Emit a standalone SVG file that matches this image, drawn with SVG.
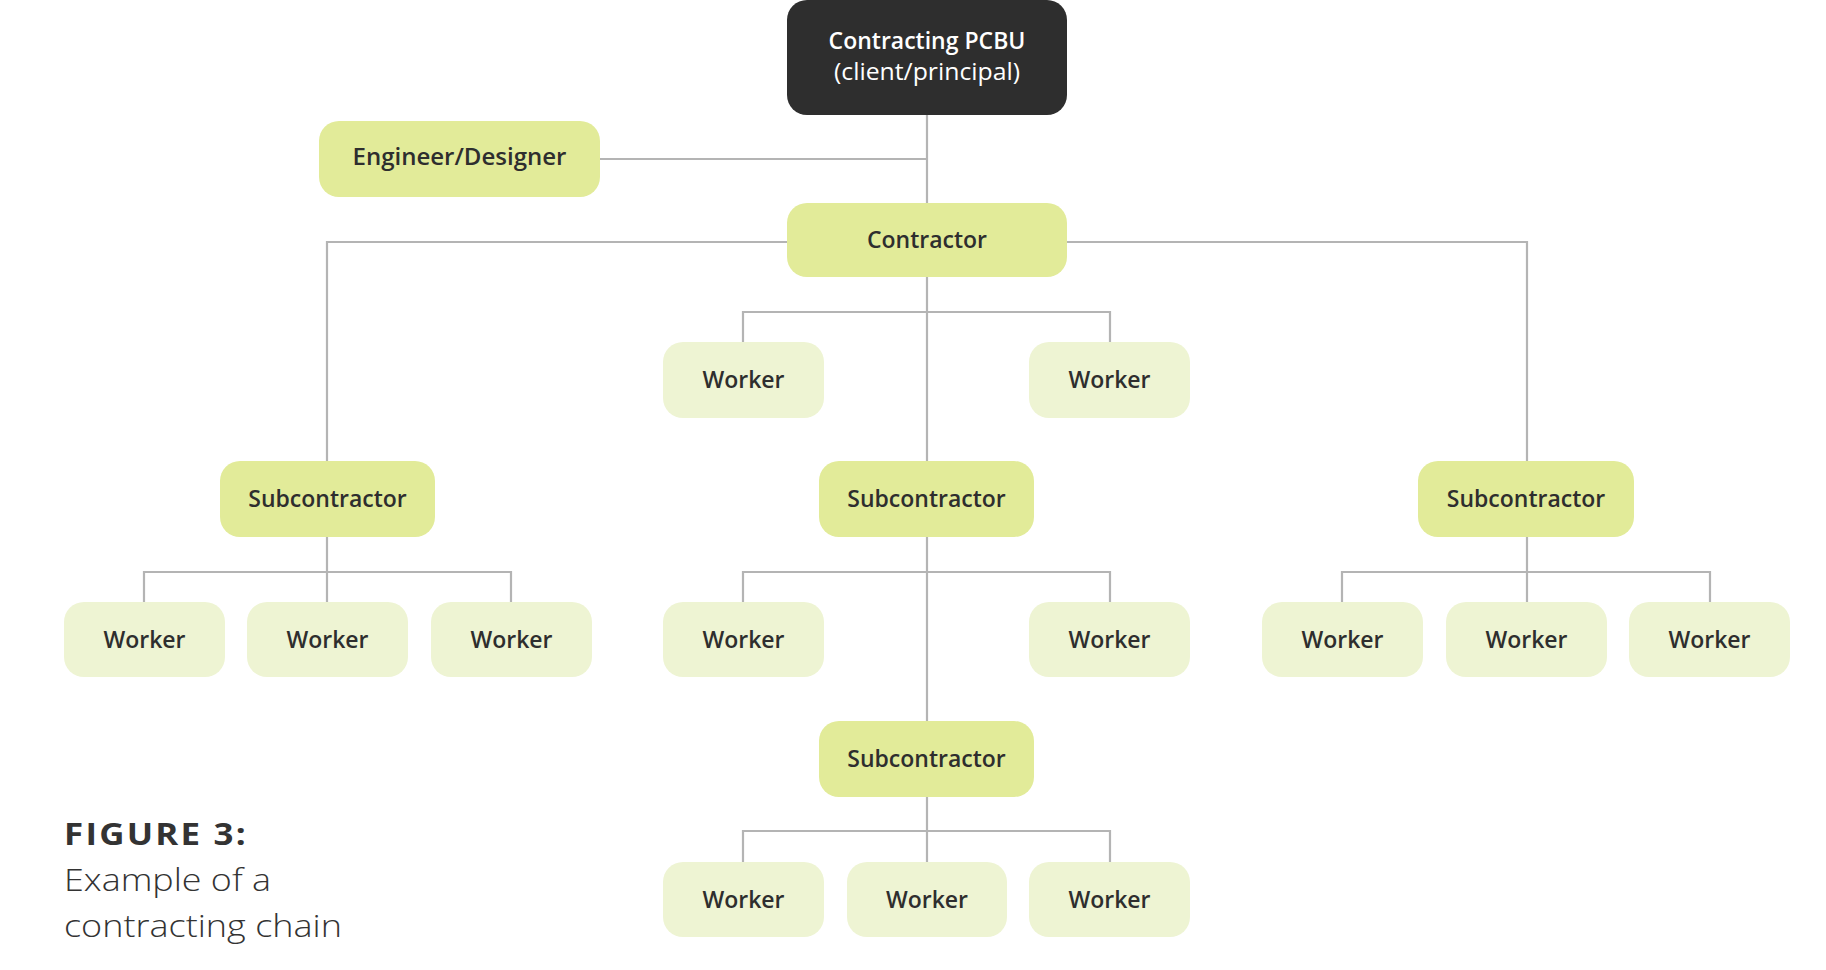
<svg xmlns="http://www.w3.org/2000/svg" width="1826" height="970" viewBox="0 0 1826 970">
<style>
.ln{fill:none;stroke:#b4b4b4;stroke-width:2.2}
.sub{fill:#e2eb99}
.wk{fill:#eef4d3}
.dk{fill:#2e2e2e}
.t{font-family:"Open Sans","Liberation Sans",sans-serif;font-weight:600;font-size:23px;fill:#2e2e2e;text-anchor:middle}
.tw{font-family:"Open Sans","Liberation Sans",sans-serif;font-size:23px;fill:#ffffff;text-anchor:middle}
.cap{font-family:"Open Sans","Liberation Sans",sans-serif;fill:#333333}
</style>
<rect width="1826" height="970" fill="#ffffff"/>
<g id="connectors">
<path class="ln" d="M927 115 V203 M600 159 H927"/>
<path class="ln" d="M787 242 H327 V461 M1067 242 H1527 V461"/>
<path class="ln" d="M927 277 V461 M743 342 V312 H1110 V342"/>
<path class="ln" d="M327 537 V602 M144 602 V572 H511 V602"/>
<path class="ln" d="M927 537 V721 M743 602 V572 H1110 V602"/>
<path class="ln" d="M1527 537 V602 M1342 602 V572 H1710 V602"/>
<path class="ln" d="M927 797 V862 M743 862 V831 H1110 V862"/>
</g>
<g id="pcbu"><rect class="dk" x="787" y="0" width="280" height="115" rx="20"/><text class="tw" x="927" y="49" font-weight="600">Contracting PCBU</text><text class="tw" x="927" y="80" font-weight="400" textLength="186" lengthAdjust="spacingAndGlyphs">(client/principal)</text></g>
<g id="engineer"><rect class="sub" x="319" y="121" width="281" height="76" rx="20"/><text class="t" x="459.5" y="165" textLength="214" lengthAdjust="spacingAndGlyphs">Engineer/Designer</text></g>
<g id="contractor"><rect class="sub" x="787" y="203" width="280" height="74" rx="20"/><text class="t" x="927" y="248">Contractor</text></g>
<g id="worker-c1"><rect class="wk" x="663" y="342" width="161" height="76" rx="20"/><text class="t" x="743.5" y="388">Worker</text></g>
<g id="worker-c2"><rect class="wk" x="1029" y="342" width="161" height="76" rx="20"/><text class="t" x="1109.5" y="388">Worker</text></g>
<g id="sub-left"><rect class="sub" x="220" y="461" width="215" height="76" rx="20"/><text class="t" x="327.5" y="507">Subcontractor</text></g>
<g id="sub-mid"><rect class="sub" x="819" y="461" width="215" height="76" rx="20"/><text class="t" x="926.5" y="507">Subcontractor</text></g>
<g id="sub-right"><rect class="sub" x="1418" y="461" width="216" height="76" rx="20"/><text class="t" x="1526" y="507">Subcontractor</text></g>
<g id="worker-l1"><rect class="wk" x="64" y="602" width="161" height="75" rx="20"/><text class="t" x="144.5" y="648">Worker</text></g>
<g id="worker-l2"><rect class="wk" x="247" y="602" width="161" height="75" rx="20"/><text class="t" x="327.5" y="648">Worker</text></g>
<g id="worker-l3"><rect class="wk" x="431" y="602" width="161" height="75" rx="20"/><text class="t" x="511.5" y="648">Worker</text></g>
<g id="worker-m1"><rect class="wk" x="663" y="602" width="161" height="75" rx="20"/><text class="t" x="743.5" y="648">Worker</text></g>
<g id="worker-m2"><rect class="wk" x="1029" y="602" width="161" height="75" rx="20"/><text class="t" x="1109.5" y="648">Worker</text></g>
<g id="worker-r1"><rect class="wk" x="1262" y="602" width="161" height="75" rx="20"/><text class="t" x="1342.5" y="648">Worker</text></g>
<g id="worker-r2"><rect class="wk" x="1446" y="602" width="161" height="75" rx="20"/><text class="t" x="1526.5" y="648">Worker</text></g>
<g id="worker-r3"><rect class="wk" x="1629" y="602" width="161" height="75" rx="20"/><text class="t" x="1709.5" y="648">Worker</text></g>
<g id="sub-bottom"><rect class="sub" x="819" y="721" width="215" height="76" rx="20"/><text class="t" x="926.5" y="767">Subcontractor</text></g>
<g id="worker-b1"><rect class="wk" x="663" y="862" width="161" height="75" rx="20"/><text class="t" x="743.5" y="908">Worker</text></g>
<g id="worker-b2"><rect class="wk" x="847" y="862" width="160" height="75" rx="20"/><text class="t" x="927" y="908">Worker</text></g>
<g id="worker-b3"><rect class="wk" x="1029" y="862" width="161" height="75" rx="20"/><text class="t" x="1109.5" y="908">Worker</text></g>
<g id="caption">
<text class="cap" x="64" y="845" font-size="31" font-weight="700" letter-spacing="2" textLength="184" lengthAdjust="spacingAndGlyphs">FIGURE 3:</text>
<text class="cap" x="64" y="891" font-size="31" font-weight="300" textLength="207" lengthAdjust="spacingAndGlyphs">Example of a</text>
<text class="cap" x="64" y="937" font-size="31" font-weight="300" textLength="278" lengthAdjust="spacingAndGlyphs">contracting chain</text>
</g>
</svg>
